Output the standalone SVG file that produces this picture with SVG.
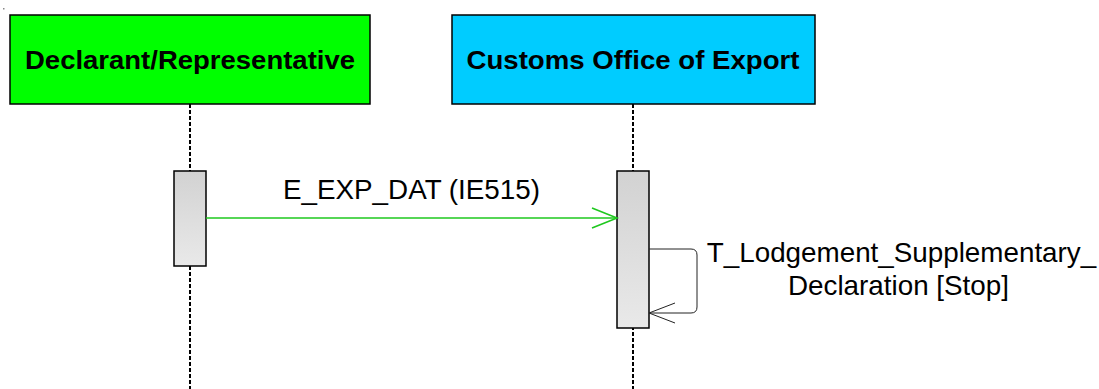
<svg xmlns="http://www.w3.org/2000/svg" width="1099" height="389" viewBox="0 0 1099 389">
<defs>
<linearGradient id="actGrad" x1="0" y1="0" x2="0" y2="1">
<stop offset="0" stop-color="#d2d2d2"/>
<stop offset="1" stop-color="#e9e9e9"/>
</linearGradient>
<marker id="openGreen" viewBox="0 0 30 24" refX="26" refY="12" markerWidth="30" markerHeight="24" markerUnits="userSpaceOnUse" orient="auto">
<path d="M1,2 L26,12 L1,22" fill="none" stroke="#1ec81e" stroke-width="1.6"/>
</marker>
<marker id="openGray" viewBox="0 0 30 24" refX="26" refY="12" markerWidth="30" markerHeight="24" markerUnits="userSpaceOnUse" orient="auto">
<path d="M0,2 L26,12 L0,22" fill="none" stroke="#222222" stroke-width="1"/>
</marker>
</defs>
<style>
.head { stroke: #000; stroke-width: 1.5; }
.htext { font-family: "Liberation Sans", Arial, sans-serif; font-weight: bold; font-size: 26px; fill: #000; }
.life { stroke: #000; stroke-width: 2; stroke-dasharray: 4 2; fill: none; }
.act { fill: url(#actGrad); stroke: #000; stroke-width: 1.5; }
.label { font-family: "Liberation Sans", Arial, sans-serif; font-size: 27.8px; fill: #000; }
</style>
<rect x="3" y="8" width="1.5" height="1.5" fill="#888"/>
<g id="declarant">
<line class="life" x1="190" y1="104" x2="190" y2="389"/>
<rect class="head" x="10" y="15" width="360" height="89" fill="#00ff00"/>
<text class="htext" x="190" y="69" text-anchor="middle" textLength="330" lengthAdjust="spacingAndGlyphs">Declarant/Representative</text>
<rect class="act" x="174" y="171" width="32" height="95"/>
</g>
<g id="customs">
<line class="life" x1="633" y1="104" x2="633" y2="389"/>
<rect class="head" x="452" y="15" width="363" height="89" fill="#00ccff"/>
<text class="htext" x="633" y="69" text-anchor="middle" textLength="333" lengthAdjust="spacingAndGlyphs">Customs Office of Export</text>
<rect class="act" x="617" y="171" width="32" height="157"/>
</g>
<g id="connectors">
<line x1="206" y1="218" x2="617" y2="218" stroke="#1ec81e" stroke-width="1.6" marker-end="url(#openGreen)"/>
<text class="label" x="411.5" y="199" text-anchor="middle">E_EXP_DAT (IE515)</text>
<path d="M649,249 L691,249 Q697,249 697,255 L697,307 Q697,313 691,313 L649,313" fill="none" stroke="#222222" stroke-width="1" marker-end="url(#openGray)"/>
<text class="label" x="901.5" y="262" text-anchor="middle">T_Lodgement_Supplementary_</text>
<text class="label" x="898.5" y="295" text-anchor="middle">Declaration [Stop]</text>
</g>
</svg>
